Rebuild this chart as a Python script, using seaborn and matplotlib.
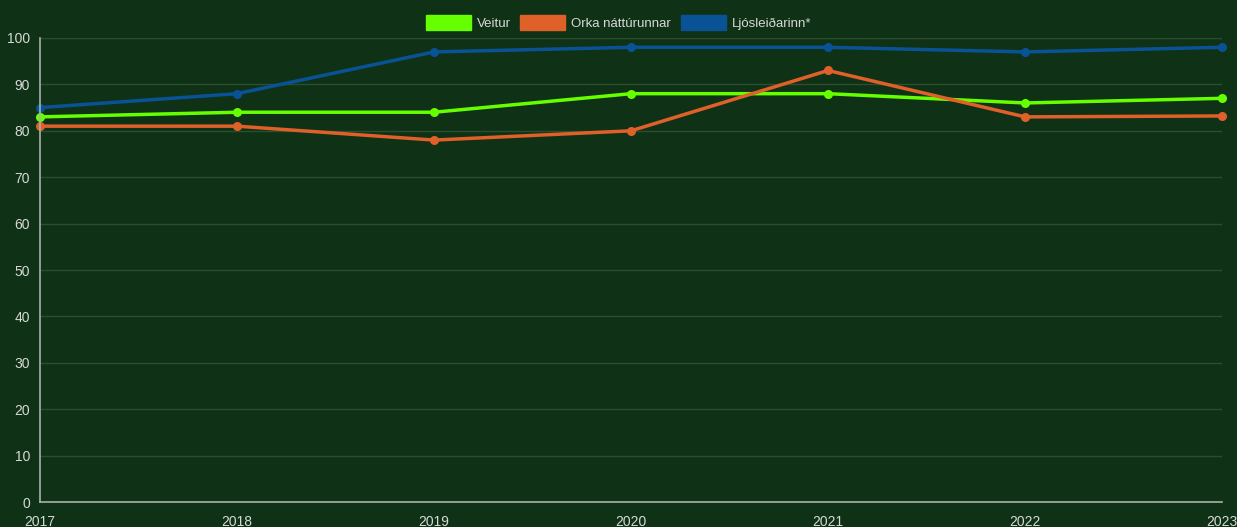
import pandas as pd
import matplotlib.pyplot as plt
import seaborn as sns
from matplotlib.patches import Patch

# Data
years = [2017, 2018, 2019, 2020, 2021, 2022, 2023]
veitur = [83, 84, 84, 88, 88, 86, 87]
orka = [81, 81, 78, 80, 93, 83, 83.2]
ljosleidarinn = [85, 88, 97, 98, 98, 97, 98]

series_names = ['Veitur', 'Orka náttúrunnar', 'Ljósleiðarinn*']
colors = ['#66ff00', '#e0602a', '#0a5296']

df = pd.DataFrame({'Ár': years, series_names[0]: veitur,
                   series_names[1]: orka, series_names[2]: ljosleidarinn})
long_df = df.melt(id_vars='Ár', var_name='Fyrirtæki', value_name='Gildi')

bg = '#0f3116'
sns.set_style('dark')
plt.rcParams['font.family'] = ['Liberation Sans', 'DejaVu Sans']

fig = plt.figure(figsize=(12.37, 5.27), dpi=100, facecolor=bg)
ax = fig.add_axes([0.0323, 0.0474, 0.9556, 0.8805])
ax.set_facecolor(bg)

sns.lineplot(data=long_df, x='Ár', y='Gildi', hue='Fyrirtæki',
             palette=dict(zip(series_names, colors)), marker='o',
             markersize=6.5, markeredgewidth=0, linewidth=2.5, ax=ax,
             legend=False, clip_on=False)

ax.set_xlim(years[0], years[-1])
ax.set_ylim(0, 100)
ax.set_xticks(years)
ax.set_yticks(range(0, 101, 10))
ax.set_xlabel('')
ax.set_ylabel('')

ax.grid(True, axis='y', color='#2d4d31', linewidth=1)
ax.grid(False, axis='x')
ax.tick_params(axis='both', colors='#d6d9d6', labelsize=10, length=0)
ax.tick_params(axis='y', pad=7)
ax.tick_params(axis='x', pad=9)

for side in ['top', 'right']:
    ax.spines[side].set_visible(False)
for side in ['left', 'bottom']:
    ax.spines[side].set_visible(True)
    ax.spines[side].set_color('#a9b0a9')
    ax.spines[side].set_linewidth(1.2)

handles = [Patch(facecolor=c, edgecolor=c) for c in colors]
fig.legend(handles, series_names, loc='upper center', bbox_to_anchor=(0.5, 1.0),
           ncol=3, frameon=False, fontsize=9.5, labelcolor='#d6d9d6',
           handlelength=3.4, handleheight=1.3, columnspacing=0.75,
           handletextpad=0.45, borderaxespad=0.75)

fig.savefig('out.png', dpi=100, facecolor=bg)
